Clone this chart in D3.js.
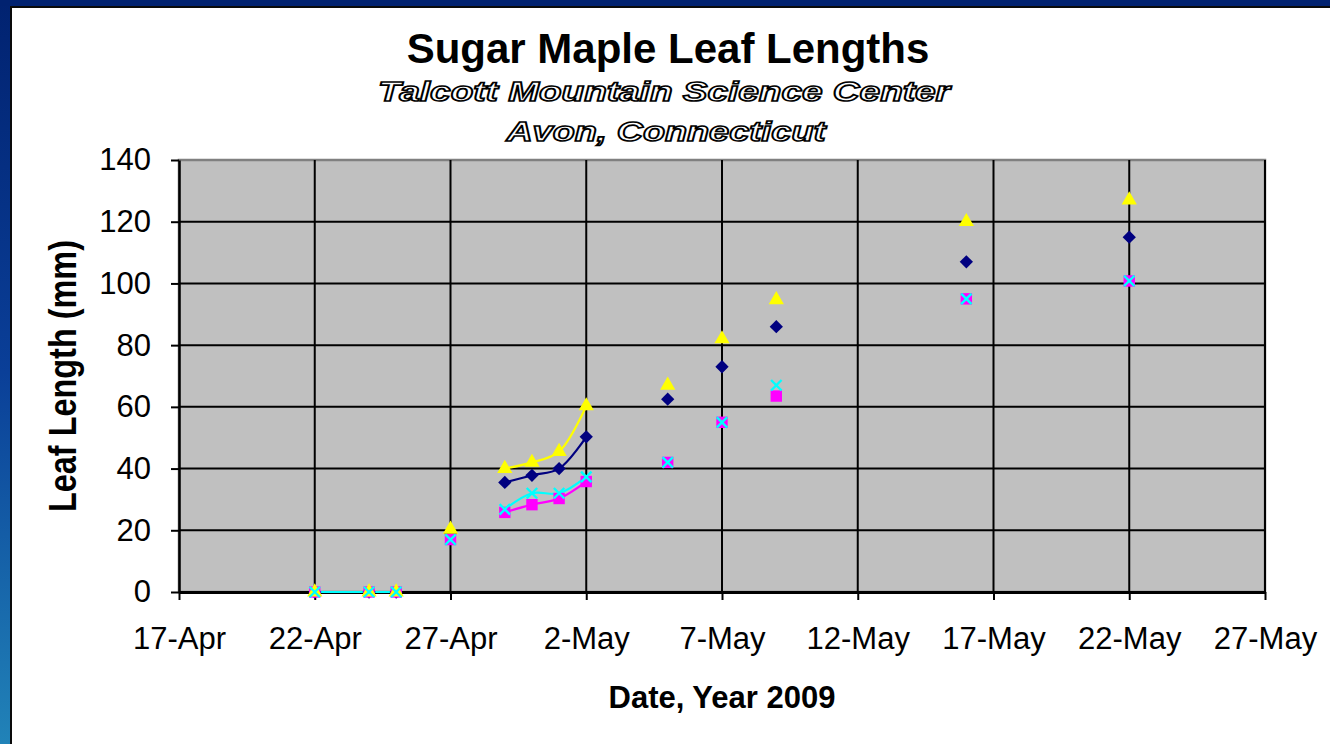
<!DOCTYPE html>
<html>
<head>
<meta charset="utf-8">
<script src="https://cdn.jsdelivr.net/npm/d3@7"></script>
<style>
  html, body { margin: 0; padding: 0; background: #fff; }
  svg { display: block; }
</style>
</head>
<body>
<svg id="chart" width="1330" height="744"></svg>
<script>
// ---------------- data ----------------
const dates = ["2009-04-22","2009-04-24","2009-04-25","2009-04-27","2009-04-29","2009-04-30",
               "2009-05-01","2009-05-02","2009-05-05","2009-05-07","2009-05-09","2009-05-16","2009-05-22"];
// consecutive rows in the sheet (points with the same run id are joined by a line)
const runs = [1,1,1,2,3,3,3,3,4,5,6,7,8];
const navyValues    = [0,0,0,19,35.5,37.8,40,50.3,62.5,73,86,107,115];
const magentaValues = [0,0,0,17,25.8,28.3,30.3,35.8,42,55,63.5,95,100.8];
const yellowValues  = [0,0,0,20.3,40,42,45.5,60.3,67,82,94.7,120,127];
const cyanValues    = [0,0,0,17,26.8,32,32,37.3,42,55,67,95,100.8];
const xTickLabels = ["17-Apr","22-Apr","27-Apr","2-May","7-May","12-May","17-May","22-May","27-May"];
const yTicks = [0,20,40,60,80,100,120,140];

const titleText = "Sugar Maple Leaf Lengths";
const subtitle1 = "Talcott Mountain Science Center";
const subtitle2 = "Avon, Connecticut";
const xTitle = "Date, Year 2009";
const yTitle = "Leaf Length (mm)";

// ---------------- layout ----------------
const W = 1330, H = 744;
const plot = { left: 179, right: 1265, top: 160, bottom: 592 };
const font = "'Liberation Sans', Arial, Helvetica, sans-serif";

const svg = d3.select("#chart");
const parse = d3.utcParse("%Y-%m-%d");
const parseTick = d3.utcParse("%d-%b-%Y");
const tickDates = xTickLabels.map(s => parseTick(s + "-2009"));

const x = d3.scaleUtc().domain([tickDates[0], tickDates[tickDates.length-1]]).range([plot.left, plot.right]);
const y = d3.scaleLinear().domain([0, 140]).range([plot.bottom, plot.top]);

// ---------------- frame ----------------
const defs = svg.append("defs");
const grad = defs.append("linearGradient").attr("id","leftband").attr("x1",0).attr("y1",0).attr("x2",0).attr("y2",1);
grad.append("stop").attr("offset","0%").attr("stop-color","#012270");
grad.append("stop").attr("offset","50%").attr("stop-color","#0a3f98");
grad.append("stop").attr("offset","100%").attr("stop-color","#2183b8");

svg.append("rect").attr("x",0).attr("y",0).attr("width",W).attr("height",H).attr("fill","#ffffff");
svg.append("rect").attr("x",0).attr("y",0).attr("width",12).attr("height",H).attr("fill","url(#leftband)");
svg.append("rect").attr("x",0).attr("y",0).attr("width",W).attr("height",6).attr("fill","#012270");
svg.append("rect").attr("x",10).attr("y",6).attr("width",W-10).attr("height",2).attr("fill","#0a0a0a");
svg.append("rect").attr("x",10).attr("y",6).attr("width",2).attr("height",H-6).attr("fill","#0a0a0a");

// ---------------- titles ----------------
svg.append("text").attr("x",668).attr("y",63).attr("text-anchor","middle")
  .attr("font-family",font).attr("font-weight","bold").attr("font-size",42).attr("fill","#000")
  .text(titleText);

function outlined(txt, cx, by, len) {
  svg.append("text").attr("x",cx).attr("y",by).attr("text-anchor","middle")
    .attr("font-family",font).attr("font-weight","bold").attr("font-style","italic")
    .attr("font-size",28).attr("fill","#ffffff").attr("stroke","#000").attr("stroke-width",1.6)
    .attr("paint-order","normal")
    .attr("textLength",len).attr("lengthAdjust","spacingAndGlyphs")
    .text(txt);
}
outlined(subtitle1, 664, 101, 572);
outlined(subtitle2, 666, 141, 319);

// ---------------- plot area ----------------
svg.append("rect").attr("x",plot.left).attr("y",plot.top)
  .attr("width",plot.right-plot.left).attr("height",plot.bottom-plot.top)
  .attr("fill","#c0c0c0").attr("stroke","#808080").attr("stroke-width",2.5);

const grid = svg.append("g");
grid.selectAll("line.h").data(yTicks.filter(v => v > 0 && v < 140)).join("line")
  .attr("x1",plot.left).attr("x2",plot.right)
  .attr("y1",d => y(d)).attr("y2",d => y(d))
  .attr("stroke","#000").attr("stroke-width",2);
grid.selectAll("line.v").data(tickDates.slice(1)).join("line")
  .attr("x1",d => x(d)).attr("x2",d => x(d))
  .attr("y1",plot.top).attr("y2",plot.bottom)
  .attr("stroke","#000").attr("stroke-width",2);

// ---------------- axes ----------------
const yAxis = d3.axisLeft(y).tickValues(yTicks).tickSize(8).tickSizeOuter(0).tickPadding(20).tickFormat(d3.format("d"));
const gy = svg.append("g").attr("transform",`translate(${plot.left},0)`).call(yAxis);
gy.select(".domain").attr("stroke","#000").attr("stroke-width",2.5);
gy.selectAll(".tick line").attr("stroke","#000").attr("stroke-width",2);
gy.selectAll(".tick text").attr("font-family",font).attr("font-size",31).attr("fill","#000");

const xAxis = d3.axisBottom(x).tickValues(tickDates).tickSize(8).tickSizeOuter(0).tickPadding(27)
  .tickFormat((d,i) => xTickLabels[i]);
const gx = svg.append("g").attr("transform",`translate(0,${plot.bottom})`).call(xAxis);
gx.select(".domain").attr("stroke","#000").attr("stroke-width",3);
gx.selectAll(".tick line").attr("stroke","#000").attr("stroke-width",2);
gx.selectAll(".tick text").attr("font-family",font).attr("font-size",31).attr("fill","#000");

svg.append("text").attr("x",(plot.left+plot.right)/2).attr("y",708).attr("text-anchor","middle")
  .attr("font-family",font).attr("font-weight","bold").attr("font-size",31).attr("fill","#000")
  .text(xTitle);

svg.append("text").attr("transform",`translate(76,${(plot.top+plot.bottom)/2}) rotate(-90)`)
  .attr("text-anchor","middle")
  .attr("font-family",font).attr("font-weight","bold").attr("font-size",39).attr("fill","#000")
  .attr("textLength",272).attr("lengthAdjust","spacingAndGlyphs")
  .text(yTitle);

// ---------------- series ----------------
const xSym = { draw(ctx, size) { const r = Math.sqrt(size)/2; ctx.moveTo(-r,-r); ctx.lineTo(r,r); ctx.moveTo(r,-r); ctx.lineTo(-r,r); } };
const series = [
  { name:"navy",    values: navyValues,    color:"#000080", type:d3.symbolSquare,   size:88,  rotate:45, fill:true },
  { name:"magenta", values: magentaValues, color:"#ff00ff", type:d3.symbolSquare,   size:130, rotate:0,  fill:true },
  { name:"yellow",  values: yellowValues,  color:"#ffff00", type:d3.symbolTriangle, size:100, rotate:0,  fill:true },
  { name:"cyan",    values: cyanValues,    color:"#00ffff", type:xSym,              size:110, rotate:0,  fill:false }
];

const line = d3.line().x(d => x(d.date)).y(d => y(d.v)).curve(d3.curveCatmullRom.alpha(0.5));

const pts = s => dates.map((d,i) => ({ date: parse(d), v: s.values[i], run: runs[i] }));

const linesG = svg.append("g");
series.forEach(s => {
  const groups = d3.groups(pts(s), d => d.run).filter(g => g[1].length > 1);
  linesG.selectAll(null).data(groups).join("path")
    .attr("d", g => line(g[1]))
    .attr("fill","none").attr("stroke",s.color).attr("stroke-width",2.2);
});

const markG = svg.append("g");
series.forEach(s => {
  const sym = d3.symbol().type(s.type).size(s.size);
  markG.selectAll(null).data(pts(s)).join("path")
    .attr("transform", d => `translate(${x(d.date)},${y(d.v)}) rotate(${s.rotate})`)
    .attr("d", sym)
    .attr("fill", s.fill ? s.color : "none")
    .attr("stroke", s.fill ? "none" : s.color)
    .attr("stroke-width", s.fill ? 0 : 2.4);
});
</script>
</body>
</html>
